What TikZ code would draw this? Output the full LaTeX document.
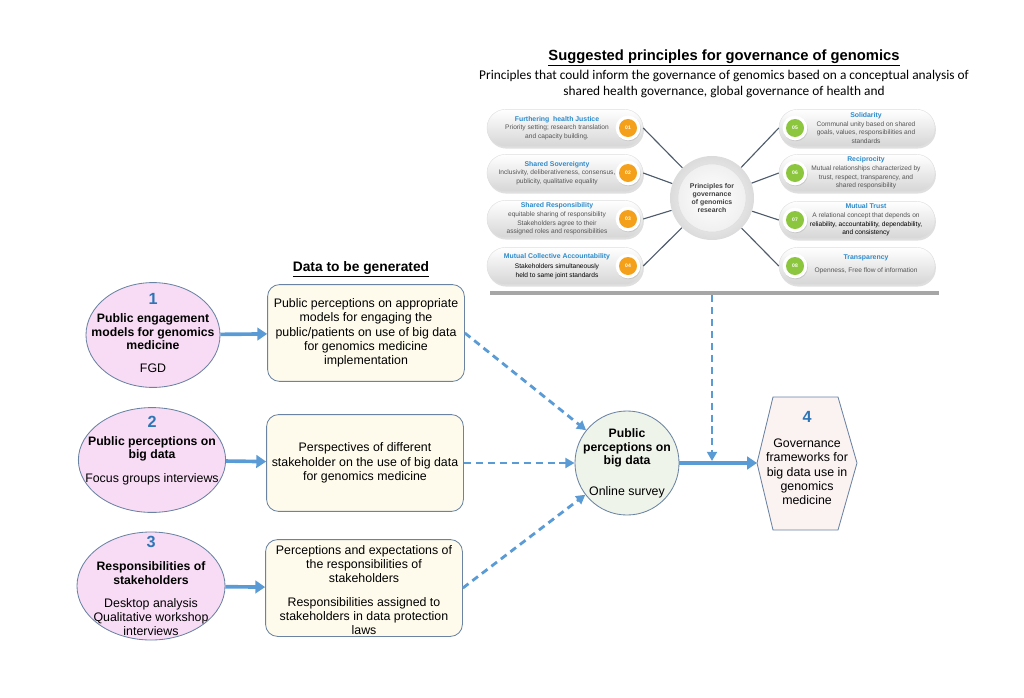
\documentclass[tikz,border=0pt]{standalone}
\usepackage{fontspec}
\setmainfont{Liberation Sans}
\newfontfamily\calibri{Carlito}
\usetikzlibrary{arrows.meta,shadows,shapes.geometric}

\definecolor{arrowblue}{HTML}{5B9BD5}
\definecolor{numblue}{HTML}{2E75B6}
\definecolor{edgeblue}{HTML}{6A83A3}
\definecolor{ellpink}{HTML}{F8DCF5}
\definecolor{boxcream}{HTML}{FEFBEC}
\definecolor{surveygreen}{HTML}{EEF4EA}
\definecolor{hexpink}{HTML}{FBF2F2}
\definecolor{titleblue}{HTML}{2B8ACB}
\definecolor{bodygray}{HTML}{555555}
\definecolor{pillgray}{HTML}{D6D6D6}
\definecolor{spokegray}{HTML}{4D5B6B}
\definecolor{dotorange}{HTML}{F5A01A}
\definecolor{dotgreen}{HTML}{8CC63E}
\definecolor{bargray}{HTML}{A6A6A6}

\newcommand{\ptl}[1]{{\fontsize{4.9}{6.2}\selectfont\bfseries\color{titleblue}#1}}

\tikzset{
  flow/.style={arrowblue, line width=2.6pt, -{Triangle[length=7pt,width=9pt]}},
  dflow/.style={arrowblue, line width=2pt, dash pattern=on 5pt off 3.5pt, -{Triangle[length=6.5pt,width=7pt]}},
  ell/.style={ellipse, draw=edgeblue, fill=ellpink, line width=0.6pt, inner sep=0pt},
  datbox/.style={rectangle, rounded corners=0.3cm, draw=edgeblue, fill=boxcream, line width=0.6pt, minimum width=4.92cm, minimum height=2.42cm},
  txt/.style={align=center, font=\fontsize{8.8}{10.2}\selectfont, inner sep=0pt},
  btxt/.style={txt, font=\fontsize{8.7}{9.6}\selectfont\bfseries},
  num/.style={font=\fontsize{11.5}{12}\selectfont\bfseries, text=numblue, inner sep=0pt},
  pill/.style={rectangle, rounded corners=0.46cm, minimum width=3.9cm, minimum height=0.93cm, top color=white, bottom color=pillgray, draw=pillgray!80, line width=0.3pt, drop shadow={opacity=0.25, shadow xshift=0.6pt, shadow yshift=-1.4pt}},
  badge/.style={circle, fill=white, minimum size=0.62cm, inner sep=0pt, drop shadow={opacity=0.25, shadow xshift=0.4pt, shadow yshift=-0.6pt}},
  dot/.style={circle, fill=#1, minimum size=0.45cm, inner sep=0pt, text=white, font=\fontsize{3.6}{4}\selectfont\bfseries},
  ptext/.style={align=center, font=\fontsize{4.7}{6.2}\selectfont, text=bodygray, inner sep=0pt},
  spoke/.style={spokegray, line width=0.8pt},
}

\begin{document}
\begin{tikzpicture}[x=0.025cm, y=-0.025cm]
\useasboundingbox (0,0) rectangle (1024,697);

% principles panel
\node[font=\fontsize{10.5}{12}\selectfont\bfseries] (ptitle) at (724,58) {\underline{Suggested principles for governance of genomics}};
\node[font=\calibri\fontsize{9.5}{11.4}\selectfont, align=center] (psub) at (724,84) {Principles that could inform the governance of genomics based on a conceptual analysis of\\shared health governance, global governance of health and};

\node[circle, minimum size=2.1cm, inner color=white, outer color=gray!28] (hub) at (712,198) {};
\node[circle, minimum size=1.7cm, inner color=white, outer color=gray!12, draw=gray!25, line width=0.4pt, align=center, font=\fontsize{4.9}{5.8}\selectfont\bfseries, text=black!75] (hubtext) at (hub) {Principles for\\governance\\of genomics\\research};

\node[pill] (p1) at (565,128) {};
\node[pill] (p2) at (565,173) {};
\node[pill] (p3) at (565,219) {};
\node[pill] (p4) at (565,266) {};
\node[pill] (p5) at (857,128) {};
\node[pill] (p6) at (857,173) {};
\node[pill] (p7) at (857,220) {};
\node[pill] (p8) at (857,266) {};

\foreach \i in {1,...,4} \draw[spoke] (p\i.east) -- (hub);
\foreach \i in {5,...,8} \draw[spoke] (hub) -- (p\i.west);

\node[ptext] (t1) at (557,128) {\ptl{Furthering\ \ health Justice}\\Priority setting; research translation\\and capacity building.};
\node[ptext] (t2) at (557,173) {\ptl{Shared Sovereignty}\\Inclusivity, deliberativeness, consensus,\\publicity, qualitative equality};
\node[ptext] (t3) at (557,219) {\ptl{Shared Responsibility}\\equitable sharing of responsibility\\Stakeholders agree to their\\assigned roles and responsibilities};
\node[ptext, text=black] (t4) at (557,266) {\ptl{Mutual Collective Accountability}\\[1pt]Stakeholders simultaneously\\held to same joint standards};
\node[ptext] (t5) at (866,128) {\ptl{Solidarity}\\Communal unity based on shared\\goals, values, responsibilities and\\standards};
\node[ptext] (t6) at (866,173) {\ptl{Reciprocity}\\Mutual relationships characterized by\\trust, respect, transparency, and\\shared responsibility};
\node[ptext] (t7) at (866,220) {\ptl{Mutual Trust}\\A relational concept that depends on\\{\color{black}reliability, accountability, dependability,}\\{\color{black}and consistency}};
\node[ptext] (t8) at (866,264) {\ptl{Transparency}\\[3pt]Openness, Free flow of information};

\foreach \i/\y in {1/128,2/173,3/219,4/266} {
  \node[badge] (bl\i) at (628,\y) {};
  \node[dot=dotorange] (dl\i) at (bl\i) {0\i};
}
\foreach \i/\y in {5/128,6/173,7/220,8/266} {
  \node[badge] (br\i) at (795,\y) {};
  \node[dot=dotgreen] (dr\i) at (br\i) {0\i};
}

\draw[bargray, line width=3pt] (490,293) -- (939,293);

% data column
\node[font=\fontsize{9.8}{11}\selectfont\bfseries] (dtitle) at (361,269) {\underline{Data to be generated}};

\node[ell, minimum width=3.35cm, minimum height=2.62cm] (e1) at (153,335) {};
\node[num] (n1) at (153,299) {1};
\node[btxt] (e1a) at (153,332) {Public engagement\\models for genomics\\medicine};
\node[txt] (e1b) at (153,368) {FGD};

\node[ell, minimum width=3.68cm, minimum height=2.62cm] (e2) at (152,460) {};
\node[num] (n2) at (152,422) {2};
\node[btxt] (e2a) at (152,449) {Public perceptions on\\big data};
\node[txt] (e2b) at (152,479) {Focus groups interviews};

\node[ell, minimum width=3.7cm, minimum height=2.7cm] (e3) at (151,586) {};
\node[num] (n3) at (151,542) {3};
\node[btxt] (e3a) at (151,573) {Responsibilities of\\stakeholders};
\node[txt] (e3b) at (151,617) {Desktop analysis\\Qualitative workshop\\interviews};

\node[datbox] (b1) at (366,333) {};
\node[txt] (b1t) at (366,333) {Public perceptions on appropriate\\models for engaging the\\public/patients on use of big data\\for genomics medicine\\implementation};
\node[datbox] (b2) at (365,463) {};
\node[txt] (b2t) at (365,463) {Perspectives of different\\stakeholder on the use of big data\\for genomics medicine};
\node[datbox] (b3) at (364,588) {};
\node[txt] (b3t) at (364,564) {Perceptions and expectations of\\the responsibilities of\\stakeholders};
\node[txt] (b3u) at (364,616) {Responsibilities assigned to\\stakeholders in data protection\\laws};

\draw[flow] (e1) -- (b1);
\draw[flow] (e2) -- (b2);
\draw[flow] (e3) -- (b3);

% survey and outcome
\node[circle, draw=edgeblue, fill=surveygreen, line width=0.6pt, minimum size=2.6cm] (survey) at (627,463) {};
\node[btxt] (s1) at (627,448) {Public\\perceptions on\\big data};
\node[txt] (s2) at (627,492) {Online survey};

\draw[edgeblue, fill=hexpink, line width=0.6pt] (757,463) coordinate (hexL) -- (773,397) -- (838,397) -- (857,463) -- (838,530) -- (773,530) -- cycle;
\node[num] (n4) at (807,417) {4};
\node[txt] (h1) at (807,472) {Governance\\frameworks for\\big data use in\\genomics\\medicine};

\draw[dflow] (b1.east) -- (survey);
\draw[dflow] (b2.east) -- (survey);
\draw[dflow] (b3.east) -- (survey);
\draw[flow] (survey) -- (hexL);

\coordinate (barmid) at (712,295);
\coordinate (join) at (712,461);
\draw[dflow] (barmid) -- (join);
\end{tikzpicture}
\end{document}
